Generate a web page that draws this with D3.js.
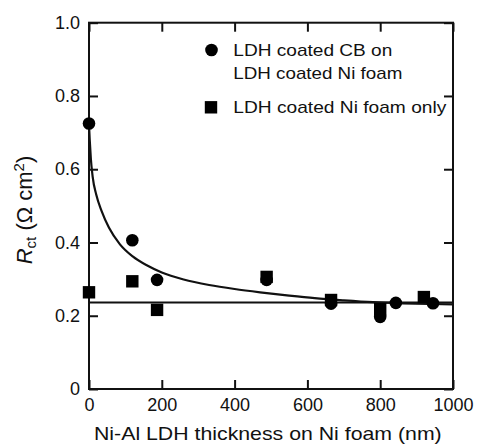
<!DOCTYPE html>
<html><head><meta charset="utf-8">
<script src="https://cdn.jsdelivr.net/npm/d3@7"></script>
<style>body{margin:0;background:#fff} text{font-family:Arial,"Liberation Sans",sans-serif;fill:#111}</style>
</head><body><svg id="c" width="479" height="445"></svg>
<script>
const xTicks=[0,200,400,600,800,1000];
const xTickLabels=["0","200","400","600","800","1000"];
const yTicks=[0,0.2,0.4,0.6,0.8,1.0];
const yTickLabels=["0","0.2","0.4","0.6","0.8","1.0"];
const cbX=[0,119,187,488,665,800,843,945];
const cbY=[0.725,0.406,0.298,0.298,0.233,0.197,0.235,0.234];
const foamX=[0,119,187,488,665,800,920];
const foamY=[0.264,0.294,0.216,0.306,0.243,0.218,0.251];
const fitX=[0,2,5,10,20,35,55,85,120,160,200,260,330,400,470,550,620,700,780,860,940,1000];
const fitY=[0.722,0.68,0.63,0.58,0.53,0.485,0.44,0.395,0.362,0.337,0.318,0.299,0.284,0.273,0.264,0.255,0.248,0.242,0.237,0.234,0.232,0.231];
const baseX=[0,1000];
const baseY=[0.236,0.236];
const legendLabels=[["LDH coated CB on","LDH coated Ni foam"],["LDH coated Ni foam only"]];

const L=89,R=453,T=22.7,B=389;
const svg=d3.select("#c");
const x=d3.scaleLinear().domain([0,1000]).range([L,R]);
const y=d3.scaleLinear().domain([0,1]).range([B,T]);
const tick=9;

svg.append("g").attr("transform",`translate(0,${B})`)
  .call(d3.axisBottom(x).tickValues(xTicks).tickFormat((d,i)=>xTickLabels[i]).tickSizeInner(-tick).tickSizeOuter(0).tickPadding(9))
  .call(g=>{g.select(".domain").remove();g.selectAll("line").attr("stroke","#111").attr("stroke-width",2);
    g.selectAll("text").attr("font-size",18).attr("fill","#111").style("font-family","Arial, 'Liberation Sans', sans-serif");});
svg.append("g").attr("transform",`translate(0,${T})`)
  .call(d3.axisTop(x).tickValues(xTicks).tickFormat("").tickSizeInner(-tick).tickSizeOuter(0))
  .call(g=>{g.select(".domain").remove();g.selectAll("line").attr("stroke","#111").attr("stroke-width",2);});
svg.append("g").attr("transform",`translate(${L},0)`)
  .call(d3.axisLeft(y).tickValues(yTicks).tickFormat((d,i)=>yTickLabels[i]).tickSizeInner(-tick).tickSizeOuter(0).tickPadding(9))
  .call(g=>{g.select(".domain").remove();g.selectAll("line").attr("stroke","#111").attr("stroke-width",2);
    g.selectAll("text").attr("font-size",18).attr("fill","#111").style("font-family","Arial, 'Liberation Sans', sans-serif");});
svg.append("g").attr("transform",`translate(${R},0)`)
  .call(d3.axisRight(y).tickValues(yTicks).tickFormat("").tickSizeInner(-tick).tickSizeOuter(0))
  .call(g=>{g.select(".domain").remove();g.selectAll("line").attr("stroke","#111").attr("stroke-width",2);});

svg.append("rect").attr("x",L).attr("y",T).attr("width",R-L).attr("height",B-T)
  .attr("fill","none").attr("stroke","#111").attr("stroke-width",2);

svg.append("clipPath").attr("id","clip").append("rect").attr("x",L).attr("y",T).attr("width",R-L).attr("height",B-T);

const line=d3.line().x(d=>x(d[0])).y(d=>y(d[1])).curve(d3.curveMonotoneX);
svg.append("path").attr("clip-path","url(#clip)").datum(baseX.map((v,i)=>[v,baseY[i]]))
  .attr("d",line).attr("fill","none").attr("stroke","#111").attr("stroke-width",2);
svg.append("path").attr("clip-path","url(#clip)").datum(fitX.map((v,i)=>[v,fitY[i]]))
  .attr("d",line).attr("fill","none").attr("stroke","#111").attr("stroke-width",2.2);

const r=6.3, s=12.4;
svg.append("g").selectAll("circle").data(cbX.map((v,i)=>[v,cbY[i]])).join("circle")
  .attr("cx",d=>x(d[0])).attr("cy",d=>y(d[1])).attr("r",r).attr("fill","#000");
svg.append("g").selectAll("rect").data(foamX.map((v,i)=>[v,foamY[i]])).join("rect")
  .attr("x",d=>x(d[0])-s/2).attr("y",d=>y(d[1])-s/2).attr("width",s).attr("height",s).attr("fill","#000");

// legend
const lg=svg.append("g");
lg.append("circle").attr("cx",211.5).attr("cy",50).attr("r",r).attr("fill","#000");
lg.append("rect").attr("x",211-s/2).attr("y",107.3-s/2).attr("width",s).attr("height",s).attr("fill","#000");
const lw=[[159,169],[213]];
const lb=[[56,79.3],[113.3]];
legendLabels.forEach((lines,k)=>lines.forEach((t,j)=>{
  lg.append("text").attr("x",233.3).attr("y",lb[k][j]).attr("font-size",17)
    .attr("textLength",lw[k][j]).attr("lengthAdjust","spacingAndGlyphs").text(t);
}));

// x title
svg.append("text").attr("x",94).attr("y",440).attr("font-size",17.7)
  .attr("textLength",347.7).attr("lengthAdjust","spacingAndGlyphs")
  .text("Ni-Al LDH thickness on Ni foam (nm)");

// y title
const yt=svg.append("text").attr("transform","translate(32,210) rotate(-90)")
  .attr("text-anchor","middle").attr("font-size",22);
yt.append("tspan").attr("font-style","italic").text("R");
yt.append("tspan").attr("font-size",15).attr("dy",4).text("ct");
yt.append("tspan").attr("dy",-4).text(" (\u03A9 cm");
yt.append("tspan").attr("font-size",15).attr("dy",-8).text("2");
yt.append("tspan").attr("dy",8).text(")");
</script></body></html>
